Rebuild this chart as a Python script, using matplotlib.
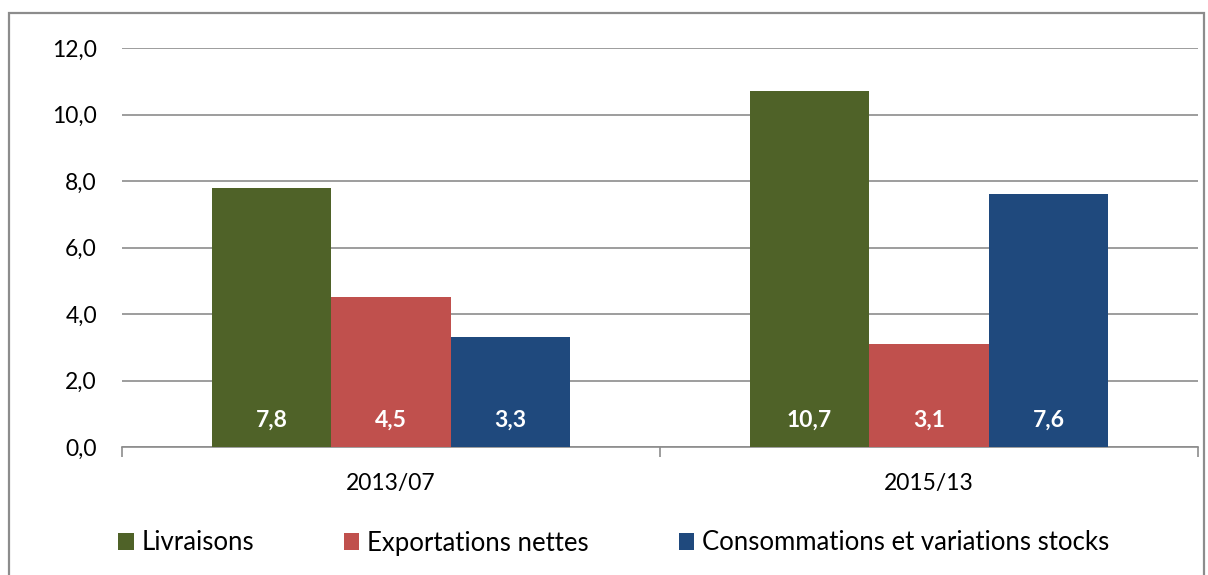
import matplotlib.pyplot as plt
from matplotlib.patches import Rectangle
import numpy as np

plt.rcParams['font.family'] = ['Lato', 'DejaVu Sans']

periods = ["2013/07", "2015/13"]
series = ["Livraisons", "Exportations nettes", "Consommations et variations stocks"]
livraisons = [7.8, 10.7]
exportations = [4.5, 3.1]
consommations = [3.3, 7.6]
colors = ["#4F6228", "#C0504D", "#1F497D"]
yticks = [0, 2, 4, 6, 8, 10, 12]

values = [livraisons, exportations, consommations]

fig = plt.figure(figsize=(12.08, 5.75), dpi=100)
ax = fig.add_axes([122 / 1208, 1 - 447 / 575, (1198 - 122) / 1208, (447 - 48) / 575])

# outer frame
fig.patches.append(Rectangle((9 / 1208, -0.05), (1204 - 9) / 1208, 1.05 - 13 / 575,
                             transform=fig.transFigure, fill=False,
                             edgecolor="#8C8C8C", linewidth=1.6))

centers = np.arange(len(periods)) + 0.5
width = 0.2222
for i, (name, vals, c) in enumerate(zip(series, values, colors)):
    x = centers + (i - 1) * width
    bars = ax.bar(x, vals, width=width, color=c, label=name, zorder=3)
    for b, v in zip(bars, vals):
        ax.annotate(f"{v:.1f}".replace(".", ","), (b.get_x() + b.get_width() / 2, 0),
                    xytext=(0, 19.5), textcoords="offset points",
                    ha="center", va="center", color="white",
                    fontsize=16.5, fontweight="bold", zorder=4)

ax.set_xlim(0, len(periods))
ax.set_ylim(0, 12)
ax.set_yticks(yticks)
ax.set_yticklabels([f"{t:.1f}".replace(".", ",") for t in yticks], fontsize=16.5)
ax.tick_params(axis="y", length=0, pad=18)
ax.yaxis.grid(True, color="#8C8C8C", linewidth=1.2, zorder=0)

ax.set_xticks([0, 1, 2])
ax.set_xticklabels([])
ax.set_xticks(centers, minor=True)
ax.set_xticklabels(periods, minor=True, fontsize=16.5)
ax.tick_params(axis="x", which="major", length=7, color="#8C8C8C", width=1.2)
ax.tick_params(axis="x", which="minor", length=0, pad=19)

for s in ["left", "right", "top"]:
    ax.spines[s].set_visible(False)
ax.spines["bottom"].set_color("#8C8C8C")
ax.spines["bottom"].set_linewidth(1.2)

fig.legend(loc="center left", bbox_to_anchor=(108 / 1208, 1 - 543 / 575), ncol=3,
           frameon=False, fontsize=18.5, handlelength=0.6, handleheight=0.6,
           handletextpad=0.3, columnspacing=3.5, borderaxespad=0)

fig.savefig("out.png", dpi=100)
